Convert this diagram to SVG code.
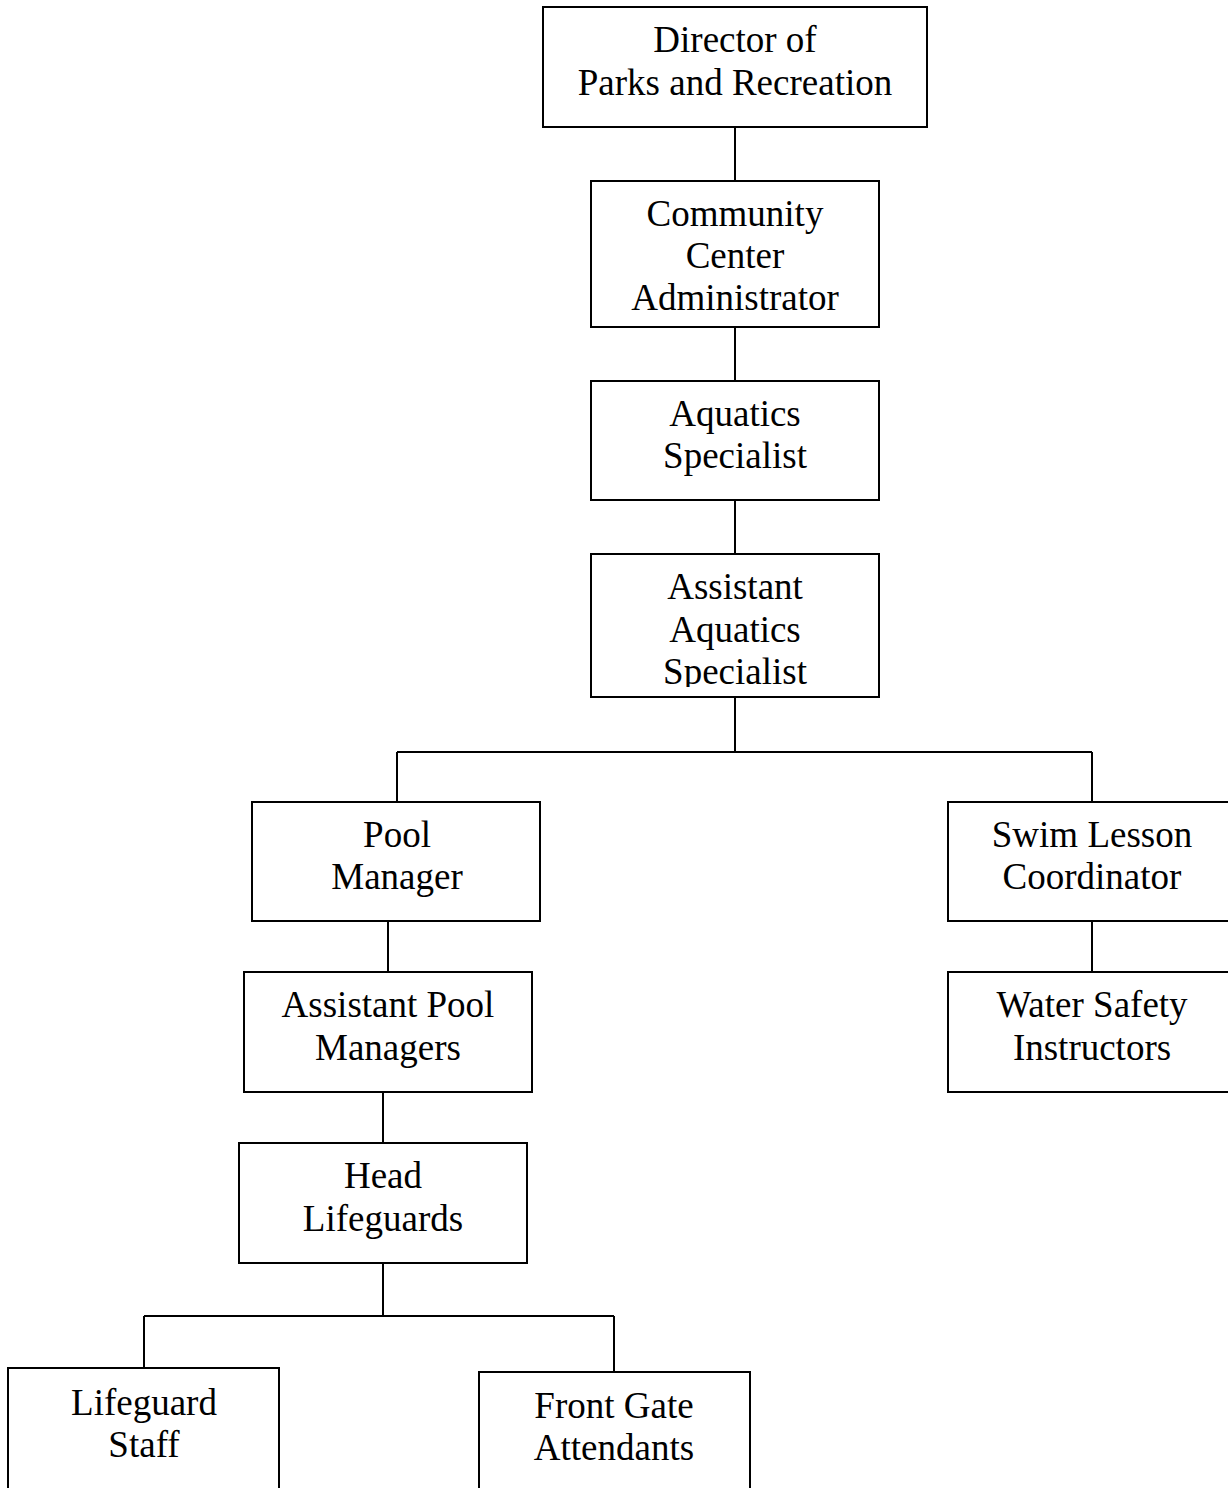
<svg xmlns="http://www.w3.org/2000/svg" width="1228" height="1488" viewBox="0 0 1228 1488">
<style>
.box{fill:#fff;stroke:#000;stroke-width:2}
.lbl{font-family:"Liberation Serif","Times New Roman",serif;font-size:37px;fill:#000;text-anchor:middle}
.con{stroke:#000;stroke-width:2;fill:none}
</style>
<defs>
<clipPath id="clipAAS"><rect x="591" y="554" width="288" height="133"/></clipPath>
</defs>
<rect width="1228" height="1488" fill="#fff"/>
<g id="connectors">
<path class="con" d="M735 127V181"/>
<path class="con" d="M735 327V381"/>
<path class="con" d="M735 500V554"/>
<path class="con" d="M735 697V752M397 752H1092M397 752V802M1092 752V802"/>
<path class="con" d="M388 921V972"/>
<path class="con" d="M1092 921V972"/>
<path class="con" d="M383 1092V1143"/>
<path class="con" d="M383 1263V1316M144 1316H614M144 1316V1368M614 1316V1372"/>
</g>
<g id="director">
<rect class="box" x="543" y="7" width="384" height="120"/>
<text class="lbl" x="735" y="52">Director of</text>
<text class="lbl" x="735" y="95">Parks and Recreation</text>
</g>
<g id="community-center-administrator">
<rect class="box" x="591" y="181" width="288" height="146"/>
<text class="lbl" x="735" y="226">Community</text>
<text class="lbl" x="735" y="268">Center</text>
<text class="lbl" x="735" y="310">Administrator</text>
</g>
<g id="aquatics-specialist">
<rect class="box" x="591" y="381" width="288" height="119"/>
<text class="lbl" x="735" y="426">Aquatics</text>
<text class="lbl" x="735" y="468">Specialist</text>
</g>
<g id="assistant-aquatics-specialist">
<rect class="box" x="591" y="554" width="288" height="143"/>
<g clip-path="url(#clipAAS)">
<text class="lbl" x="735" y="599">Assistant</text>
<text class="lbl" x="735" y="642">Aquatics</text>
<text class="lbl" x="735" y="684">Specialist</text>
</g>
</g>
<g id="pool-manager">
<rect class="box" x="252" y="802" width="288" height="119"/>
<text class="lbl" x="397" y="847">Pool</text>
<text class="lbl" x="397" y="889">Manager</text>
</g>
<g id="swim-lesson-coordinator">
<rect class="box" x="948" y="802" width="290" height="119"/>
<text class="lbl" x="1092" y="847">Swim Lesson</text>
<text class="lbl" x="1092" y="889">Coordinator</text>
</g>
<g id="water-safety-instructors">
<rect class="box" x="948" y="972" width="290" height="120"/>
<text class="lbl" x="1092" y="1017">Water Safety</text>
<text class="lbl" x="1092" y="1060">Instructors</text>
</g>
<g id="assistant-pool-managers">
<rect class="box" x="244" y="972" width="288" height="120"/>
<text class="lbl" x="388" y="1017">Assistant Pool</text>
<text class="lbl" x="388" y="1060">Managers</text>
</g>
<g id="head-lifeguards">
<rect class="box" x="239" y="1143" width="288" height="120"/>
<text class="lbl" x="383" y="1188">Head</text>
<text class="lbl" x="383" y="1231">Lifeguards</text>
</g>
<g id="lifeguard-staff">
<rect class="box" x="8" y="1368" width="271" height="130"/>
<text class="lbl" x="144" y="1415">Lifeguard</text>
<text class="lbl" x="144" y="1457">Staff</text>
</g>
<g id="front-gate-attendants">
<rect class="box" x="479" y="1372" width="271" height="130"/>
<text class="lbl" x="614" y="1418">Front Gate</text>
<text class="lbl" x="614" y="1460">Attendants</text>
</g>
</svg>
